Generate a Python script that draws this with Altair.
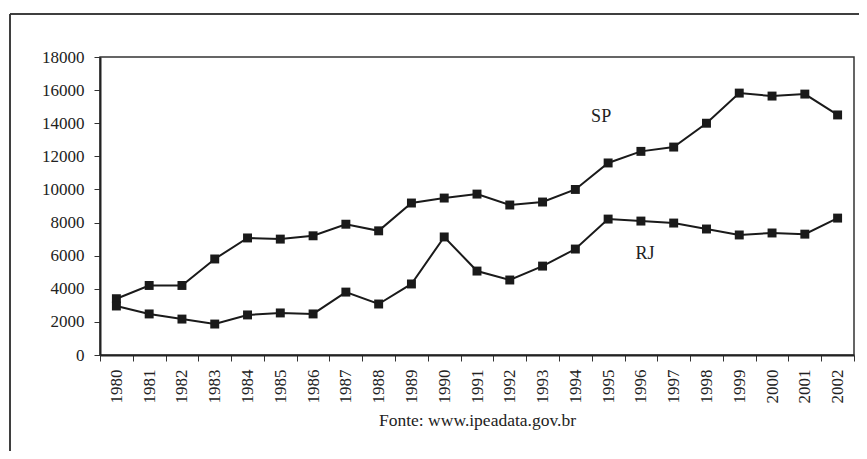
import altair as alt
import pandas as pd

years = [str(y) for y in range(1980, 2003)]
sp = [3400, 4200, 4200, 5800, 7070, 7000, 7200, 7900, 7500, 9180, 9480, 9720,
      9060, 9240, 10000, 11600, 12300, 12560, 14000, 15820, 15640, 15760, 14500]
rj = [2960, 2480, 2170, 1870, 2420, 2540, 2480, 3800, 3080, 4290, 7130, 5070,
      4530, 5370, 6400, 8210, 8090, 7970, 7610, 7250, 7370, 7300, 8270]
label_text = ["SP", "RJ"]
label_year = ["1995", "1996"]
label_value = [14400, 6100]
source = "Fonte: www.ipeadata.gov.br"

df = pd.DataFrame({
    "year": years * 2,
    "value": sp + rj,
    "series": ["SP"] * len(years) + ["RJ"] * len(years),
})
labels = pd.DataFrame({"year": label_year, "value": label_value, "text": label_text})

FONT = "Liberation Serif"
W, H = 754, 298

x = alt.X("year:O", sort=years,
          scale=alt.Scale(paddingInner=0, paddingOuter=0),
          axis=alt.Axis(title=source, labelAngle=-90, labelFont=FONT, labelFontSize=17,
                        labelColor="#222", labelAlign="right", labelBaseline="middle",
                        labelPadding=8, labelOverlap=False, tickBand="extent", ticks=True,
                        tickSize=6, tickColor="#333", tickWidth=1, domainColor="#222",
                        domainWidth=2, titleFont=FONT, titleFontSize=17.5,
                        titleFontWeight="normal", titleColor="#222", titlePadding=8,
                        grid=False))
y = alt.Y("value:Q",
          scale=alt.Scale(domain=[0, 18000], nice=False),
          axis=alt.Axis(title=None, values=list(range(0, 18001, 2000)), format="d",
                        labelOverlap=False, labelFont=FONT, labelFontSize=17,
                        labelColor="#222", labelPadding=10, tickSize=6, tickColor="#333",
                        tickWidth=1, domainColor="#222", domainWidth=2, grid=False))

lines = alt.Chart(df).mark_line(
    color="#1a1a1a", strokeWidth=2,
    point=alt.OverlayMarkDef(shape="square", size=80, filled=True, color="#1a1a1a", opacity=1),
).encode(x=x, y=y, detail="series:N")

text_sp = alt.Chart(labels[labels.text == "SP"]).mark_text(
    font=FONT, fontSize=18, color="#222", dx=-7).encode(x=x, y=y, text="text:N")
text_rj = alt.Chart(labels[labels.text == "RJ"]).mark_text(
    font=FONT, fontSize=18, color="#222", dx=4).encode(x=x, y=y, text="text:N")

frame_top = alt.Chart(labels).mark_rule(color="#333", strokeWidth=1.5).encode(
    x=alt.value(-90), x2=alt.value(W + 30), y=alt.value(-43))
frame_left = alt.Chart(labels).mark_rule(color="#333", strokeWidth=1.5).encode(
    x=alt.value(-90), y=alt.value(-43), y2=alt.value(H + 120))

chart = alt.layer(lines, text_sp, text_rj, frame_top, frame_left).properties(
    width=W, height=H,
    autosize=alt.AutoSizeParams(type="none"),
    padding={"left": 92, "top": 49, "right": 5, "bottom": 96},
    background="white",
).configure_view(stroke="#333", strokeWidth=1.5)

chart.save("out.html", embed_options={"renderer": "svg", "actions": False})
